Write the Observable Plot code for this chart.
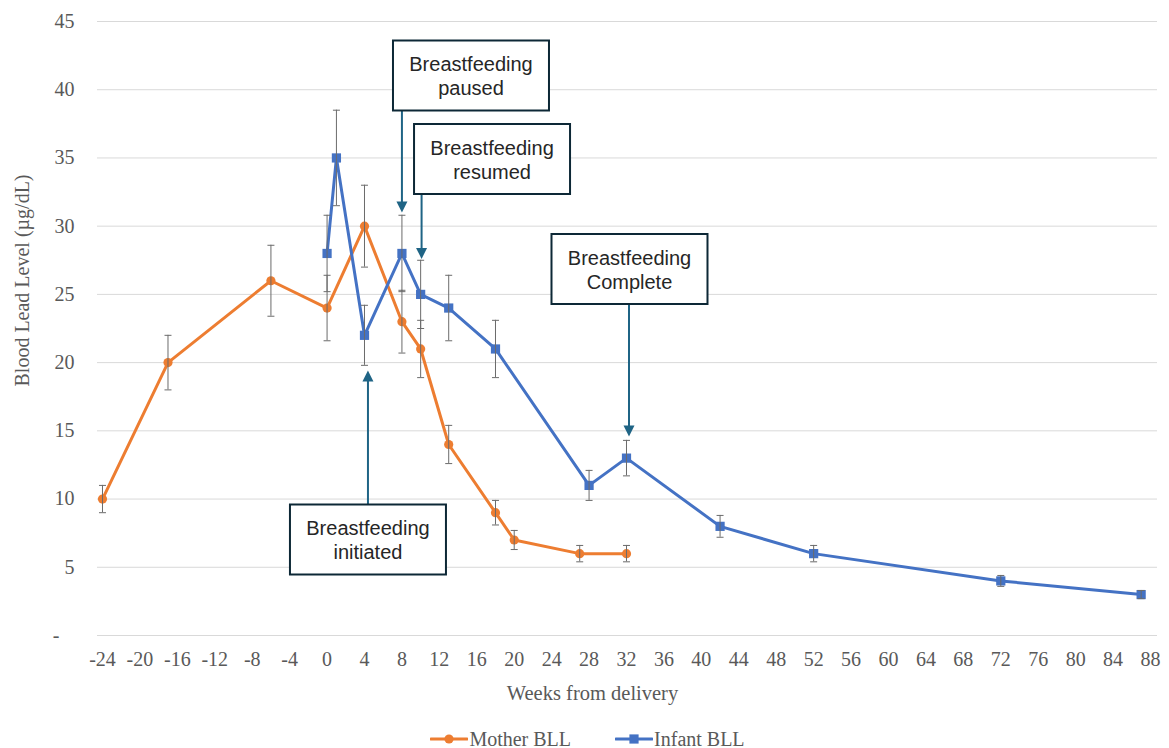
<!DOCTYPE html>
<html>
<head>
<meta charset="utf-8">
<script src="https://cdn.jsdelivr.net/npm/d3@7"></script>
<script src="https://cdn.jsdelivr.net/npm/@observablehq/plot@0.6"></script>
<style>
  html, body { margin: 0; padding: 0; background: #fff; }
  #legend { display: flex; justify-content: center; gap: 44px; height: 20px; line-height: 20px;
    font-family: 'Liberation Serif', 'Times New Roman', serif; font-size: 20px; color: #595959;
    padding-left: 6px; margin-top: 1px; }
  #legend span { display: inline-flex; align-items: center; }
  #legend svg { margin-right: 1px; }
</style>
</head>
<body>
<div id="chart"></div>
<div id="legend"></div>
<script>
// ---- data ----
const seriesNames = ["Mother BLL", "Infant BLL"];
const seriesColors = ["#ED7D31", "#4472C4"];

const motherWeeks = [-24, -17, -6, 0, 4, 8, 10, 13, 18, 20, 27, 32];
const motherBLL   = [10, 20, 26, 24, 30, 23, 21, 14, 9, 7, 6, 6];
const motherErr   = [1, 2, 2.6, 2.4, 3, 2.3, 2.1, 1.4, 0.9, 0.7, 0.6, 0.6];

const infantWeeks = [0, 1, 4, 8, 10, 13, 18, 28, 32, 42, 52, 72, 87];
const infantBLL   = [28, 35, 22, 28, 25, 24, 21, 11, 13, 8, 6, 4, 3];
const infantErr   = [2.8, 3.5, 2.2, 2.8, 2.5, 2.4, 2.1, 1.1, 1.3, 0.8, 0.6, 0.4, 0.3];

const xTicks = [-24, -20, -16, -12, -8, -4, 0, 4, 8, 12, 16, 20, 24, 28, 32, 36, 40, 44, 48, 52, 56, 60, 64, 68, 72, 76, 80, 84, 88];
const yTicks = [0, 5, 10, 15, 20, 25, 30, 35, 40, 45];

const noteText  = ["Breastfeeding\npaused", "Breastfeeding\nresumed", "Breastfeeding\nComplete", "Breastfeeding\ninitiated"];
const noteX     = [15.38, 17.63, 32.32, 4.37];
const noteY     = [41.04, 34.92, 26.86, 7.04];
const arrowX    = [8, 10.1, 32.27, 4.37];
const arrowFrom = [38.48, 32.4, 24.33, 9.6];
const arrowTo   = [31.0, 27.6, 14.58, 19.42];

// ---- tables ----
const mother = motherWeeks.map((w, i) => ({week: w, bll: motherBLL[i], err: motherErr[i]}));
const infant = infantWeeks.map((w, i) => ({week: w, bll: infantBLL[i], err: infantErr[i]}));
const notes = noteText.map((t, i) => ({text: t, x: noteX[i], y: noteY[i]}));
const arrows = arrowX.map((x, i) => ({x, from: arrowFrom[i], to: arrowTo[i],
  top: Math.max(arrowFrom[i], arrowTo[i]), bottom: Math.min(arrowFrom[i], arrowTo[i]),
  down: arrowTo[i] < arrowFrom[i]}));

// ---- custom symbols (pixel sized) ----
const capSymbol = {draw(ctx) { ctx.moveTo(-3.5, 0); ctx.lineTo(3.5, 0); }};
const boxSymbol = {draw(ctx) { ctx.rect(-78, -35, 156, 70); }};
const headDown = {draw(ctx) { ctx.moveTo(-5.5, -11); ctx.lineTo(5.5, -11); ctx.lineTo(0, 0); ctx.closePath(); }};
const headUp = {draw(ctx) { ctx.moveTo(-5.5, 11); ctx.lineTo(5.5, 11); ctx.lineTo(0, 0); ctx.closePath(); }};

const errColor = "#6b6b6b";
const arrowColor = "#1f6485";
const boxStroke = "#0d2836";

function errorMarks(data) {
  return [
    Plot.ruleX(data, {x: "week", y1: d => d.bll - d.err, y2: d => d.bll + d.err, stroke: errColor, strokeWidth: 1}),
    Plot.dot(data, {x: "week", y: d => d.bll + d.err, symbol: capSymbol, r: 3, stroke: errColor, fill: "none", strokeWidth: 1}),
    Plot.dot(data, {x: "week", y: d => d.bll - d.err, symbol: capSymbol, r: 3, stroke: errColor, fill: "none", strokeWidth: 1})
  ];
}

const chart = Plot.plot({
  width: 1169,
  height: 728,
  marginLeft: 97,
  marginRight: 12,
  marginTop: 21,
  marginBottom: 93,
  x: {domain: [-24.534, 88.748]},
  y: {domain: [0, 45]},
  style: {fontFamily: "'Liberation Serif', 'Times New Roman', serif", fontSize: "20px", color: "#595959", background: "#fff", overflow: "visible"},
  marks: [
    Plot.gridY(yTicks, {stroke: "#d9d9d9", strokeOpacity: 1, strokeWidth: 1}),
    Plot.axisY(yTicks, {tickSize: 0, tickPadding: 23, label: null, fontSize: 20, fill: "#595959",
      tickFormat: d => d === 0 ? "-\u00a0\u00a0\u00a0" : String(d)}),
    Plot.axisX(xTicks, {tickSize: 0, tickPadding: 16, label: null, fontSize: 20, fill: "#595959",
      tickFormat: d => String(d)}),
    Plot.text(["Weeks from delivery"], {frameAnchor: "bottom", text: d => d, dx: -35, dy: 64, fontSize: 20.5, fill: "#595959"}),
    Plot.text(["Blood Lead Level (\u00b5g/dL)"], {frameAnchor: "left", textAnchor: "middle", text: d => d, rotate: -90, dx: -75, dy: -48, fontSize: 20, fill: "#595959"}),

    Plot.line(mother, {x: "week", y: "bll", stroke: seriesColors[0], strokeWidth: 3}),
    Plot.dot(mother, {x: "week", y: "bll", r: 4.6, fill: seriesColors[0], stroke: "none"}),
    Plot.line(infant, {x: "week", y: "bll", stroke: seriesColors[1], strokeWidth: 3}),
    Plot.dot(infant, {x: "week", y: "bll", symbol: "square", r: 5.2, fill: seriesColors[1], stroke: "none"}),

    ...errorMarks(mother),
    ...errorMarks(infant),

    // arrows
    Plot.ruleX(arrows.filter(d => d.down), {x: "x", y1: "top", y2: "bottom", insetBottom: 6, stroke: arrowColor, strokeWidth: 2}),
    Plot.ruleX(arrows.filter(d => !d.down), {x: "x", y1: "top", y2: "bottom", insetTop: 6, stroke: arrowColor, strokeWidth: 2}),
    Plot.dot(arrows.filter(d => d.down), {x: "x", y: "to", symbol: headDown, r: 4, fill: arrowColor, stroke: "none"}),
    Plot.dot(arrows.filter(d => !d.down), {x: "x", y: "to", symbol: headUp, r: 4, fill: arrowColor, stroke: "none"}),

    // annotation boxes
    Plot.dot(notes, {x: "x", y: "y", symbol: boxSymbol, r: 10, fill: "#fff", stroke: boxStroke, strokeWidth: 2}),
    Plot.text(notes, {x: "x", y: "y", text: "text", fontSize: 20, lineHeight: 1.2,
      fontFamily: "'Liberation Sans', Arial, sans-serif", fill: "#262626"})
  ]
});
document.getElementById("chart").appendChild(chart);

// ---- legend ----
const legend = d3.select("#legend");
seriesNames.forEach((name, i) => {
  const item = legend.append("span");
  const svg = item.append("svg").attr("width", 38).attr("height", 14);
  svg.append("line").attr("x1", 1).attr("x2", 37).attr("y1", 7).attr("y2", 7)
    .attr("stroke", seriesColors[i]).attr("stroke-width", 3).attr("stroke-linecap", "round");
  if (i === 0) svg.append("circle").attr("cx", 19).attr("cy", 7).attr("r", 4.6).attr("fill", seriesColors[i]);
  else svg.append("rect").attr("x", 14.4).attr("y", 2.4).attr("width", 9.2).attr("height", 9.2).attr("fill", seriesColors[i]);
  item.append("span").text(name);
});
</script>
</body>
</html>
